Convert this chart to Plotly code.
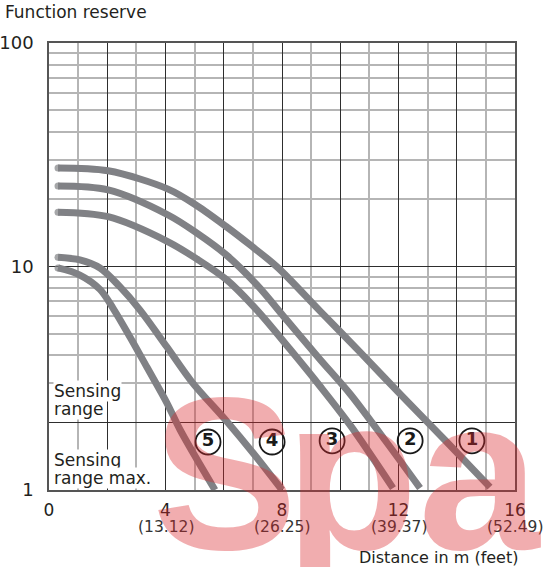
import plotly.graph_objects as go

# ---------------- data ----------------
C1_X = [0.31, 2.03, 4.09, 5.08, 6.11, 6.90, 7.83, 9.30, 10.68, 12.05, 13.60, 15.14]
C1_Y = [27.6, 26.8, 22.2, 18.7, 15.0, 12.5, 9.96, 6.33, 4.14, 2.69, 1.67, 1.03]

C2_X = [0.31, 2.03, 4.09, 5.08, 6.11, 7.14, 8.19, 9.30, 10.34, 11.54, 12.74]
C2_Y = [22.9, 22.0, 17.0, 14.1, 11.2, 8.27, 5.70, 3.85, 2.69, 1.67, 1.02]

C3_X = [0.31, 2.03, 4.09, 5.08, 6.11, 7.14, 8.27, 9.30, 10.34, 11.81]
C3_Y = [17.5, 16.7, 12.9, 10.8, 8.70, 6.38, 4.27, 2.92, 1.95, 1.02]

C4_X = [0.31, 1.06, 1.75, 2.44, 3.12, 4.05, 4.91, 6.10, 7.07, 8.00]
C4_Y = [11.0, 10.7, 9.85, 8.1, 6.4, 4.36, 3.04, 2.03, 1.43, 1.0]

C5_X = [0.31, 1.06, 1.75, 2.20, 2.78, 3.36, 4.05, 4.50, 5.70]
C5_Y = [9.85, 9.16, 7.9, 6.5, 4.84, 3.55, 2.45, 1.86, 1.0]

CURVES = [(C1_X, C1_Y), (C2_X, C2_Y), (C3_X, C3_Y), (C4_X, C4_Y), (C5_X, C5_Y)]

CURVE_NUMBERS = ["1", "2", "3", "4", "5"]
CURVE_LABEL_X = [14.52, 12.40, 9.72, 7.66, 5.46]
CURVE_LABEL_Y = [1.66, 1.66, 1.66, 1.64, 1.64]

X_TICKS = [0, 2, 4, 6, 8, 10, 12, 14, 16]
X_TICK_TEXT = ["0", "", "4", "", "8", "", "12", "", "16"]
X_MINOR = [1, 3, 5, 7, 9, 11, 13, 15]
FEET_X = [4, 8, 12, 16]
FEET_TEXT = ["(13.12)", "(26.25)", "(39.37)", "(52.49)"]

Y_TICKS = [1, 2, 10, 100]
Y_TICK_TEXT = ["1", "", "10", "100"]
Y_MINOR = [3, 4, 5, 6, 7, 8, 9, 20, 30, 40, 50, 60, 70, 80, 90]

FONT = "DejaVu Sans"
TXT = "#231f20"
CURVE_COLOR = "#808185"
DARK = "#2e2e2e"
LIGHT = "#b5b5b5"

fig = go.Figure()
for xs, ys in CURVES:
    fig.add_trace(go.Scatter(
        x=xs, y=ys, mode="lines+markers",
        line=dict(color=CURVE_COLOR, width=7, shape="spline", smoothing=0.9),
        marker=dict(color=CURVE_COLOR, size=[7] + [0] * (len(xs) - 1), line=dict(width=0)),
        hoverinfo="skip", showlegend=False,
    ))

# circled curve numbers
fig.add_trace(go.Scatter(
    x=CURVE_LABEL_X, y=CURVE_LABEL_Y, mode="markers+text",
    text=["<b>%s</b>" % n for n in CURVE_NUMBERS], textposition="middle center",
    textfont=dict(size=18, family=FONT, color="#1a1a1a"),
    marker=dict(symbol="circle-open", size=25, color="#1a1a1a", line=dict(width=1.8)),
    hoverinfo="skip", showlegend=False, cliponaxis=False,
))

fig.update_layout(
    width=545, height=567,
    margin=dict(l=49, r=30, t=43, b=77),
    paper_bgcolor="white", plot_bgcolor="white",
    font=dict(family=FONT, color=TXT),
    showlegend=False,
)

fig.update_xaxes(
    range=[0, 16], tickmode="array", tickvals=X_TICKS, ticktext=X_TICK_TEXT,
    showgrid=True, gridcolor=DARK, gridwidth=1.2,
    minor=dict(tickmode="array", tickvals=X_MINOR, showgrid=True, gridcolor=LIGHT, gridwidth=1.5, ticks=""),
    showline=True, mirror=True, linecolor="#555555", linewidth=1.5,
    zeroline=False, ticks="", ticklabelstandoff=4, automargin=False,
    tickfont=dict(size=17, family=FONT, color=TXT),
)
fig.update_yaxes(
    type="log", range=[0, 2], tickmode="array", tickvals=Y_TICKS, ticktext=Y_TICK_TEXT,
    showgrid=True, gridcolor=DARK, gridwidth=1.2,
    minor=dict(tickmode="array", tickvals=Y_MINOR, showgrid=True, gridcolor=LIGHT, gridwidth=1.5, ticks=""),
    showline=True, mirror=True, linecolor="#555555", linewidth=1.5,
    zeroline=False, ticks="", ticklabelstandoff=10, automargin=False,
    tickfont=dict(size=18, family=FONT, color=TXT),
)

ann = []
# feet sub-labels under x ticks
for fx, ft in zip(FEET_X, FEET_TEXT):
    ann.append(dict(x=fx, y=0, xref="x", yref="paper", text=ft, showarrow=False,
                    xanchor="center", yanchor="middle", yshift=-37,
                    font=dict(size=15.5, family=FONT, color="#333333")))
# axis titles
ann.append(dict(x=-0.0987, y=1, xref="paper", yref="paper", text="Function reserve",
                showarrow=False, xanchor="left", yanchor="middle", yshift=31,
                font=dict(size=17, family=FONT, color=TXT)))
ann.append(dict(x=1.0107, y=0, xref="paper", yref="paper", text="Distance in m (feet)",
                showarrow=False, xanchor="right", yanchor="middle", yshift=-67,
                font=dict(size=16, family=FONT, color=TXT)))
# sensing range boxes
SENS_LINES = [("Sensing", 391), ("range", 409), ("Sensing", 460), ("range max.", 478)]
for txt, py in SENS_LINES:
    ann.append(dict(x=0.008, y=0, xref="paper", yref="paper", text=txt, showarrow=False,
                    xanchor="left", yanchor="middle", yshift=490 - py,
                    bgcolor="white", borderpad=0,
                    font=dict(size=17, family=FONT, color=TXT)))
# watermark
WM_FONT = dict(size=218, family="Liberation Sans", color="rgba(218,40,45,0.38)")
ann.append(dict(x=0.217, y=0, xref="paper", yref="paper", text="<b>S</b>", showarrow=False,
                xanchor="left", yanchor="bottom", yshift=-107, font=WM_FONT))
ann.append(dict(x=0.502, y=0, xref="paper", yref="paper", text="<b>pa</b>", showarrow=False,
                xanchor="left", yanchor="bottom", yshift=-107, font=WM_FONT))
fig.update_layout(annotations=ann)

fig.write_html("out.html", config={"displayModeBar": False},
               post_script="document.body.style.margin='0';document.body.style.padding='0';"
                           "document.documentElement.style.overflow='hidden';")
